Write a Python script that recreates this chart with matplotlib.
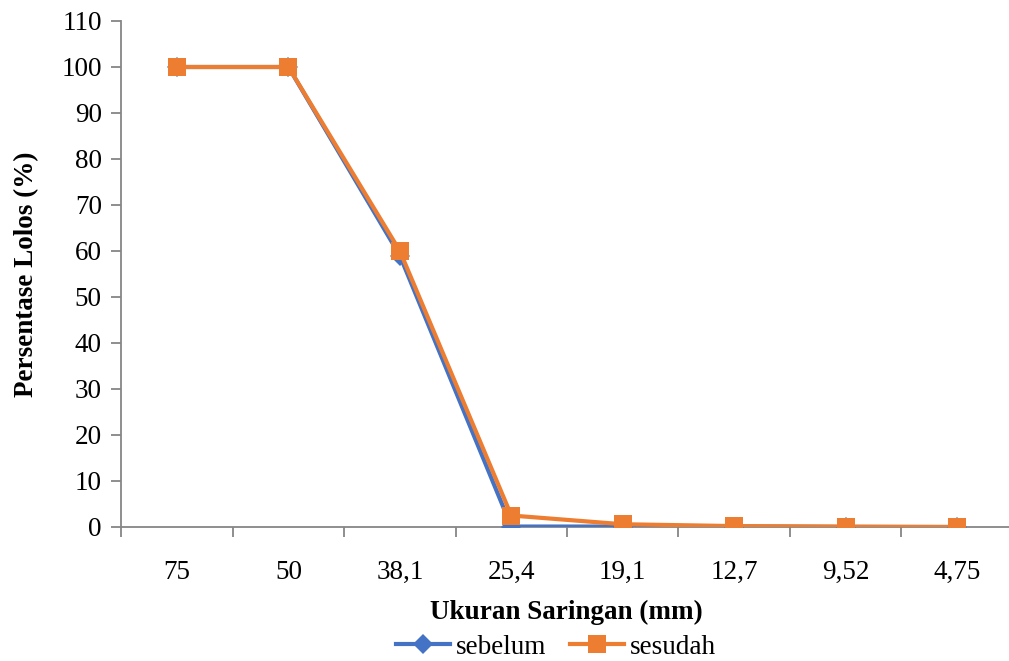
import numpy as np
import matplotlib
matplotlib.use('Agg')
import matplotlib.pyplot as plt
from matplotlib.ticker import FixedLocator

# Sieve analysis: percent passing per sieve size
sieve_labels = ['75', '50', '38,1', '25,4', '19,1', '12,7', '9,52', '4,75']
sebelum = [100, 100, 59, 0.1, 0.1, 0.1, 0.0, 0.0]
sesudah = [100, 100, 60, 2.5, 0.6, 0.2, 0.1, 0.0]

blue = '#4472C4'
orange = '#ED7D31'
axis_grey = '#868686'
fs = 19.5

plt.rcParams['font.family'] = ['Liberation Serif', 'DejaVu Serif']

fig = plt.figure(figsize=(10.09, 6.61), dpi=100)
ax = fig.add_axes([121.3 / 1009, 1 - 527 / 661, 891.4 / 1009, 506 / 661])

x = np.arange(len(sieve_labels))
ax.plot(x, sebelum, color=blue, lw=3, marker='D', ms=10,
        markeredgewidth=0, label='sebelum', zorder=3)
ax.plot(x, sesudah, color=orange, lw=3, marker='s', ms=12.5,
        markeredgewidth=0, label='sesudah', zorder=4)

ax.set_xlim(-0.5, len(sieve_labels) - 0.5)
ax.set_ylim(0, 110)
ax.set_yticks(np.arange(0, 111, 10))

ax.set_xticks(x)
ax.set_xticklabels(sieve_labels)
ax.xaxis.set_minor_locator(FixedLocator(np.arange(-0.5, len(sieve_labels), 1)))
ax.tick_params(axis='x', which='major', length=0, pad=24, labelsize=fs)
ax.tick_params(axis='x', which='minor', length=7, color=axis_grey, width=1.3)
ax.tick_params(axis='y', length=7, color=axis_grey, width=1.3, pad=7,
               labelsize=fs)

for side in ('top', 'right'):
    ax.spines[side].set_visible(False)
for side in ('left', 'bottom'):
    ax.spines[side].set_color(axis_grey)
    ax.spines[side].set_linewidth(1.3)

ax.set_ylabel('Persentase Lolos (%)', fontsize=fs, fontweight='bold',
              labelpad=16)
fig.text(566 / 1009, 1 - 612 / 661, 'Ukuran Saringan (mm)', fontsize=fs,
         fontweight='bold', ha='center', va='center')

fig.legend(loc='center', bbox_to_anchor=(556 / 1009, 1 - 647 / 661), ncol=2,
           frameon=False, fontsize=fs, handlelength=2.0, handletextpad=0.2,
           columnspacing=0.9, borderpad=0)

fig.savefig('out.png', dpi=100, facecolor='white')
